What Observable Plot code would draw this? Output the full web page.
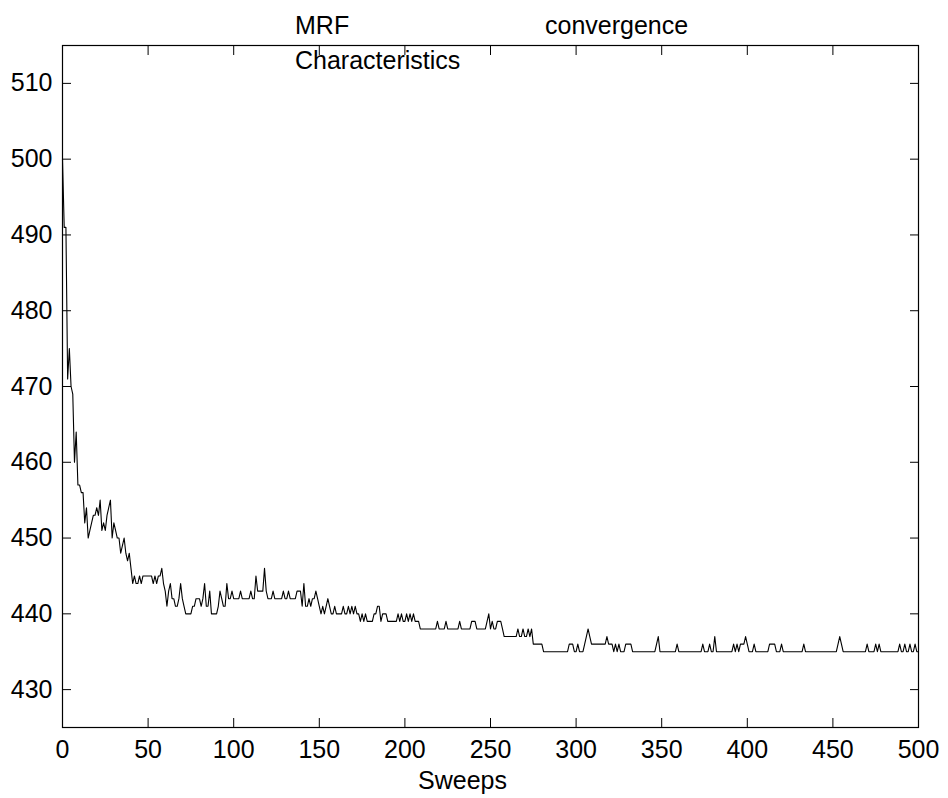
<!DOCTYPE html>
<html>
<head>
<meta charset="utf-8">
<script src="https://cdn.jsdelivr.net/npm/d3@7"></script>
<script src="https://cdn.jsdelivr.net/npm/@observablehq/plot@0.6"></script>
<style>
  html, body { margin: 0; padding: 0; background: #fff; }
  #wrap { position: relative; width: 948px; height: 798px; font-family: "Liberation Sans", Arial, sans-serif; }
  .lbl { position: absolute; font-size: 25px; color: #000; white-space: nowrap; line-height: 1; }
</style>
</head>
<body>
<div id="wrap">
  <div id="chart"></div>
  <div class="lbl" id="t1" style="left:295px; top:13px;">MRF</div>
  <div class="lbl" id="t2" style="left:545px; top:13px;">convergence</div>
  <div class="lbl" id="t3" style="left:295px; top:48px;">Characteristics</div>
  <div class="lbl" id="xl" style="left:418px; top:768px;">Sweeps</div>
</div>
<script>
// Energy per sweep, sweeps 0..500
const energy = [
  500, 491, 491, 471, 475, 470, 469, 460, 464, 457,
  457, 456, 456, 452, 454, 450, 451, 452, 453, 453,
  454, 453, 455, 451, 452, 451, 453, 454, 455, 450,
  452, 451, 450, 450, 448, 449, 450, 448, 447, 448,
  446, 444, 445, 444, 444, 445, 444, 445, 445, 445,
  445, 445, 445, 444, 445, 444, 445, 445, 446, 444,
  443, 441, 443, 444, 442, 442, 441, 441, 442, 444,
  442, 441, 440, 440, 440, 440, 441, 441, 442, 442,
  442, 441, 442, 444, 441, 441, 443, 440, 440, 440,
  440, 441, 443, 442, 441, 441, 444, 442, 442, 443,
  442, 442, 442, 442, 443, 442, 442, 442, 442, 442,
  443, 442, 442, 445, 443, 443, 443, 443, 446, 443,
  442, 442, 442, 443, 442, 442, 442, 442, 442, 443,
  442, 442, 443, 442, 442, 442, 442, 443, 443, 443,
  441, 444, 441, 441, 442, 441, 442, 442, 443, 442,
  441, 440, 441, 440, 441, 442, 441, 440, 440, 441,
  440, 440, 440, 440, 441, 440, 440, 441, 440, 441,
  440, 441, 440, 440, 439, 440, 439, 440, 439, 439,
  439, 439, 440, 440, 441, 441, 439, 440, 440, 440,
  439, 439, 439, 439, 439, 439, 440, 439, 440, 439,
  439, 440, 439, 440, 439, 440, 439, 439, 439, 438,
  438, 438, 438, 438, 438, 438, 438, 438, 438, 439,
  438, 438, 438, 438, 439, 438, 438, 438, 438, 438,
  438, 438, 439, 438, 438, 438, 438, 438, 438, 439,
  439, 439, 438, 438, 438, 438, 438, 438, 439, 440,
  438, 439, 438, 438, 439, 439, 439, 438, 437, 437,
  437, 437, 437, 437, 437, 437, 438, 437, 437, 438,
  437, 437, 438, 437, 438, 436, 436, 436, 436, 436,
  436, 435, 435, 435, 435, 435, 435, 435, 435, 435,
  435, 435, 435, 435, 435, 435, 436, 436, 436, 435,
  435, 436, 435, 435, 435, 436, 437, 438, 437, 436,
  436, 436, 436, 436, 436, 436, 436, 436, 437, 436,
  436, 436, 435, 436, 435, 436, 435, 435, 435, 436,
  436, 436, 436, 435, 435, 435, 435, 435, 435, 435,
  435, 435, 435, 435, 435, 435, 435, 436, 437, 435,
  435, 435, 435, 435, 435, 435, 435, 435, 435, 436,
  435, 435, 435, 435, 435, 435, 435, 435, 435, 435,
  435, 435, 435, 435, 436, 435, 435, 435, 436, 435,
  435, 437, 435, 435, 435, 435, 435, 435, 435, 435,
  435, 435, 436, 435, 436, 435, 436, 436, 436, 437,
  436, 435, 435, 435, 436, 435, 435, 435, 435, 435,
  435, 435, 435, 436, 436, 436, 436, 435, 435, 435,
  436, 435, 435, 435, 435, 435, 435, 435, 435, 435,
  435, 435, 435, 436, 435, 435, 435, 435, 435, 435,
  435, 435, 435, 435, 435, 435, 435, 435, 435, 435,
  435, 435, 435, 436, 437, 436, 435, 435, 435, 435,
  435, 435, 435, 435, 435, 435, 435, 435, 435, 435,
  436, 435, 435, 435, 435, 436, 435, 436, 435, 435,
  435, 435, 435, 435, 435, 435, 435, 435, 435, 436,
  435, 435, 436, 435, 435, 436, 435, 435, 436, 435,
  435
];
const sweeps = energy.map((_, i) => i);
const xTicks = [0, 50, 100, 150, 200, 250, 300, 350, 400, 450, 500];
const yTicks = [430, 440, 450, 460, 470, 480, 490, 500, 510];
const xDomain = [0, 500];
const yDomain = [425, 515];

const data = sweeps.map((s, i) => ({sweep: s, energy: energy[i]}));

const fs = 25;
const chart = Plot.plot({
  width: 948,
  height: 798,
  marginLeft: 62,
  marginRight: 30,
  marginTop: 45,
  marginBottom: 71,
  style: {fontFamily: "Liberation Sans, Arial, sans-serif", fontSize: fs + "px", color: "#000", background: "#fff"},
  x: {domain: xDomain, ticks: xTicks},
  y: {domain: yDomain, ticks: yTicks},
  marks: [
    Plot.frame({stroke: "#000", strokeWidth: 1.2}),
    Plot.axisX(xTicks, {anchor: "bottom", tickSize: -9, tickPadding: 22, fontSize: fs, label: null, stroke: "#000"}),
    Plot.axisX(xTicks, {anchor: "top", tickSize: -9, tickFormat: () => "", label: null}),
    Plot.axisY(yTicks, {anchor: "left", tickSize: -9, tickPadding: 19, fontSize: fs, label: null}),
    Plot.axisY(yTicks, {anchor: "right", tickSize: -9, tickFormat: () => "", label: null}),
    Plot.line(data, {x: "sweep", y: "energy", stroke: "#000", strokeWidth: 1.1})
  ]
});
document.getElementById("chart").appendChild(chart);
</script>
</body>
</html>
